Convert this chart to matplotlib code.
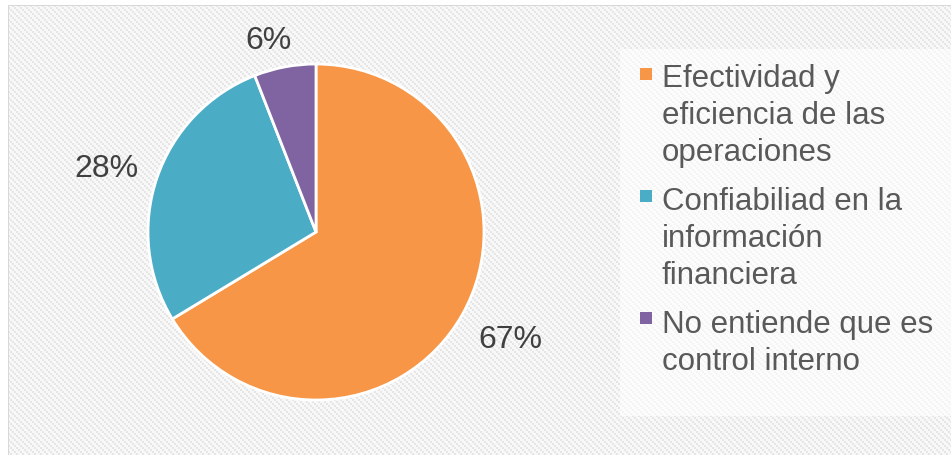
import numpy as np
import matplotlib
matplotlib.use("Agg")
import matplotlib.pyplot as plt
from matplotlib.patches import Rectangle
from matplotlib.transforms import offset_copy

plt.rcParams['font.family'] = ['Liberation Sans', 'DejaVu Sans']

# Survey answers (percent)
categories = [
    "Efectividad y\neficiencia de las\noperaciones",
    "Confiabiliad en la\ninformación\nfinanciera",
    "No entiende que es\ncontrol interno",
]
values = [67, 28, 6]
colors = ["#F79646", "#4BACC6", "#8064A2"]
label_dist = [1.30, 1.31, 1.18]
label_nudge = [(4, 0), (-1, -7), (-11, -3)]  # pixels

W, H = 951, 456
fig = plt.figure(figsize=(W / 100, H / 100), dpi=100)
fig.patch.set_facecolor("white")

# Diagonal stepped texture behind the chart
yy, xx = np.mgrid[0:H, 0:W]
stripe = ((xx // 2) - (yy // 2)) % 3 == 0
bg = np.full((H, W, 3), 0.975)
bg[stripe] = 0.90
bg[:7, :, :] = 1.0
bg[:, :9, :] = 1.0
bg[6, 8:, :] = 0.85
bg[6:, 8, :] = 0.85
fig.figimage(bg, xo=0, yo=0, origin="upper", zorder=0)

# Lighter panel behind the legend
fig.add_artist(Rectangle((620 / W, 1 - 417 / H), (W - 620) / W, (417 - 50) / H,
                         transform=fig.transFigure, facecolor="white",
                         alpha=0.6, edgecolor="none", zorder=1))

# Pie axes: centre (316, 233) px, radius 168 px
cx, cy, R = 316, 233, 168
ax = fig.add_axes([(cx - R) / W, (H - cy - R) / H, 2 * R / W, 2 * R / H])
ax.set_zorder(2)
ax.patch.set_alpha(0)
wedges, _ = ax.pie(values, colors=colors, startangle=90, counterclock=False,
                   wedgeprops=dict(edgecolor="white", linewidth=2))
ax.set_xlim(-1, 1)
ax.set_ylim(-1, 1)
ax.set_aspect("equal")
ax.axis("off")

for w, v, d, (dx, dy) in zip(wedges, values, label_dist, label_nudge):
    ang = np.deg2rad((w.theta1 + w.theta2) / 2)
    tr = offset_copy(ax.transData, fig=fig, x=dx, y=dy, units="dots")
    ax.text(d * np.cos(ang), d * np.sin(ang), f"{v}%", ha="center", va="center",
            fontsize=23, color="#404040", clip_on=False, transform=tr)

# Legend drawn as markers and wrapped labels
text_tops = [64, 187, 310]
marker_cy = [75, 197, 319]
msz = 12
for lab, col, ty, my in zip(categories, colors, text_tops, marker_cy):
    fig.add_artist(Rectangle((640 / W, 1 - (my + msz / 2) / H), msz / W, msz / H,
                             transform=fig.transFigure, facecolor=col,
                             edgecolor="none", zorder=3))
    fig.text(662 / W, 1 - ty / H, lab, ha="left", va="top", fontsize=22.5,
             color="#595959", linespacing=1.31, zorder=3)

fig.savefig("out.png", dpi=100)
